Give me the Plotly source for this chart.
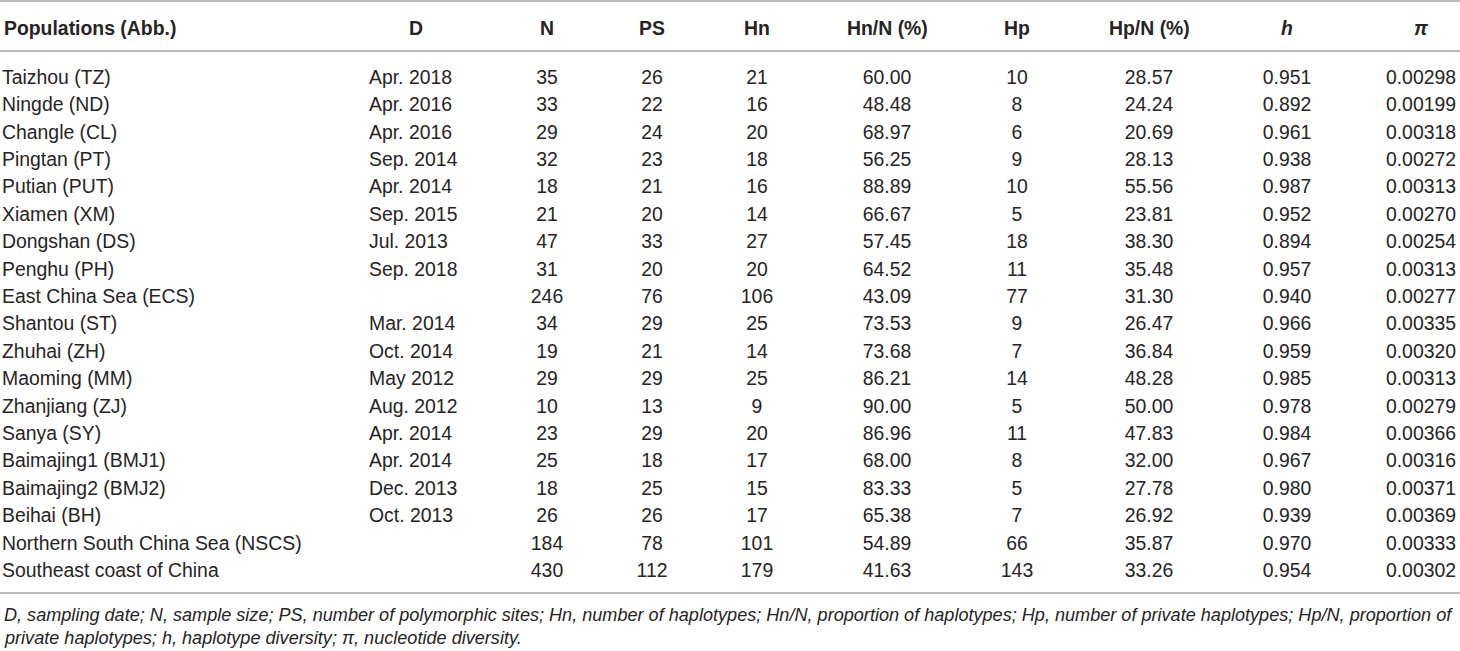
import plotly.graph_objects as go

# table content
headers = ["Populations (Abb.)", "D", "N", "PS", "Hn", "Hn/N (%)", "Hp", "Hp/N (%)", "<i>h</i>", "<i>π</i>"]

populations = [
    "Taizhou (TZ)", "Ningde (ND)", "Changle (CL)", "Pingtan (PT)", "Putian (PUT)",
    "Xiamen (XM)", "Dongshan (DS)", "Penghu (PH)", "East China Sea (ECS)",
    "Shantou (ST)", "Zhuhai (ZH)", "Maoming (MM)", "Zhanjiang (ZJ)", "Sanya (SY)",
    "Baimajing1 (BMJ1)", "Baimajing2 (BMJ2)", "Beihai (BH)",
    "Northern South China Sea (NSCS)", "Southeast coast of China",
]
dates = [
    "Apr. 2018", "Apr. 2016", "Apr. 2016", "Sep. 2014", "Apr. 2014",
    "Sep. 2015", "Jul. 2013", "Sep. 2018", "",
    "Mar. 2014", "Oct. 2014", "May 2012", "Aug. 2012", "Apr. 2014",
    "Apr. 2014", "Dec. 2013", "Oct. 2013", "", "",
]
n_size = [35, 33, 29, 32, 18, 21, 47, 31, 246, 34, 19, 29, 10, 23, 25, 18, 26, 184, 430]
ps = [26, 22, 24, 23, 21, 20, 33, 20, 76, 29, 21, 29, 13, 29, 18, 25, 26, 78, 112]
hn = [21, 16, 20, 18, 16, 14, 27, 20, 106, 25, 14, 25, 9, 20, 17, 15, 17, 101, 179]
hn_pct = [60.00, 48.48, 68.97, 56.25, 88.89, 66.67, 57.45, 64.52, 43.09, 73.53,
          73.68, 86.21, 90.00, 86.96, 68.00, 83.33, 65.38, 54.89, 41.63]
hp = [10, 8, 6, 9, 10, 5, 18, 11, 77, 9, 7, 14, 5, 11, 8, 5, 7, 66, 143]
hp_pct = [28.57, 24.24, 20.69, 28.13, 55.56, 23.81, 38.30, 35.48, 31.30, 26.47,
          36.84, 48.28, 50.00, 47.83, 32.00, 27.78, 26.92, 35.87, 33.26]
h_div = [0.951, 0.892, 0.961, 0.938, 0.987, 0.952, 0.894, 0.957, 0.940, 0.966,
         0.959, 0.985, 0.978, 0.984, 0.967, 0.980, 0.939, 0.970, 0.954]
pi_div = [0.00298, 0.00199, 0.00318, 0.00272, 0.00313, 0.00270, 0.00254, 0.00313, 0.00277,
          0.00335, 0.00320, 0.00313, 0.00279, 0.00366, 0.00316, 0.00371, 0.00369, 0.00333,
          0.00302]

footnote = [
    "D, sampling date; N, sample size; PS, number of polymorphic sites; Hn, number of haplotypes; "
    "Hn/N, proportion of haplotypes; Hp, number of private haplotypes; Hp/N, proportion of",
    "private haplotypes; h, haplotype diversity; π, nucleotide diversity.",
]

# column layout (x in pixels)
col_x = [2, 369, 547, 652, 757, 887, 1017, 1149, 1287, 1421]
header_x = [2, 416, 547, 652, 757, 887, 1017, 1149, 1287, 1421]
txt_color = "#262425"
line_color = "#a3a3a3"
fsize = 19.4
font = "Liberation Sans, Arial, sans-serif"

columns = [
    populations,
    dates,
    [str(v) for v in n_size],
    [str(v) for v in ps],
    [str(v) for v in hn],
    [f"{v:.2f}" for v in hn_pct],
    [str(v) for v in hp],
    [f"{v:.2f}" for v in hp_pct],
    [f"{v:.3f}" for v in h_div],
    [f"{v:.5f}" for v in pi_div],
]

# row pitch 27.4 px; text traces sit ~2 px high, so anchor first row at 79 px
pitch = 27.4
def ypix(p):
    return (p - 79) / pitch

rows = list(range(len(populations)))
fig = go.Figure()
for i, col in enumerate(columns):
    fig.add_trace(go.Scatter(
        x=[col_x[i]] * len(col),
        y=rows,
        mode="text",
        text=col,
        textposition="middle right" if i < 2 else "middle center",
        textfont=dict(family=font, size=fsize, color=txt_color),
        hoverinfo="skip",
        showlegend=False,
    ))

for i, hd in enumerate(headers):
    fig.add_annotation(
        x=header_x[i], y=ypix(28), text=f"<b>{hd}</b>",
        xanchor="left" if i == 0 else "center", yanchor="middle",
        showarrow=False, font=dict(family=font, size=fsize, color=txt_color),
    )

for yp in [1, 51, 593]:
    fig.add_shape(type="line", xref="paper", x0=0, x1=1, y0=ypix(yp), y1=ypix(yp),
                  line=dict(color=line_color, width=1.5))

for k, line in enumerate(footnote):
    fig.add_annotation(
        x=2, y=ypix([615, 638][k]), text=f"<i>{line}</i>",
        xanchor="left", yanchor="middle", showarrow=False,
        font=dict(family=font, size=18.1, color=txt_color),
    )

fig.update_layout(
    width=1460, height=651,
    margin=dict(l=0, r=0, t=0, b=0),
    paper_bgcolor="white", plot_bgcolor="white",
    xaxis=dict(range=[0, 1460], visible=False, fixedrange=True),
    yaxis=dict(range=[ypix(651), ypix(0)], visible=False, fixedrange=True),
)

fig.write_html("out.html", config={"displayModeBar": False},
               post_script="document.body.style.margin='0';document.body.style.overflow='hidden';")
